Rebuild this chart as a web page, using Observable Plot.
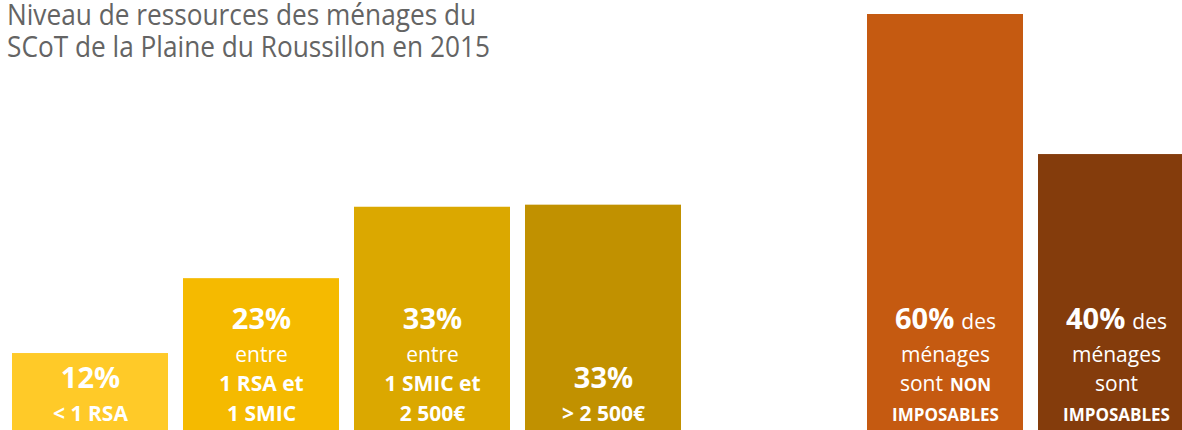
<!DOCTYPE html>
<html><head><meta charset="utf-8">
<script src="https://cdn.jsdelivr.net/npm/d3@7"></script>
<script src="https://cdn.jsdelivr.net/npm/@observablehq/plot@0.6"></script>
<style>
body{margin:0;background:#fff;}
#wrap{position:relative;width:1182px;height:430px;overflow:hidden;}
#title{position:absolute;left:7px;top:0;font-family:"Open Sans",sans-serif;font-size:30px;color:#646464;z-index:1;transform-origin:0 0;white-space:nowrap;}
#title span{display:block;line-height:27px;width:max-content;}
#title #t2{margin-top:5px;}
</style></head><body>
<div id="wrap"><div id="title"><span id="t1">Niveau de ressources des ménages du</span><span id="t2">SCoT de la Plaine du Roussillon en 2015</span></div><div id="chart"></div></div>
<script>
// Categories (a spacer slot separates the two groups)
const categories = ["< 1 RSA", "1 RSA – 1 SMIC", "1 SMIC – 2 500€", "> 2 500€", "non imposables", "imposables"];
const spacer = "·";
// Bar heights (%), and the printed labels
const shares = [11.1, 21.9, 32.2, 32.5, 60, 39.8];
const percentLabels = ["12%", "23%", "33%", "33%", "60%", "40%"];
const colors = ["#FFCA28", "#F5BA00", "#DBA800", "#C19100", "#C55A11", "#843C0C"];
// Text lines inside each bar (top to bottom); each line = list of [style, text]
const labelLines = [
  [[["pct", percentLabels[0]]], [["bold", "< 1 RSA"]]],
  [[["pct", percentLabels[1]]], [["reg", "entre"]], [["bold", "1 RSA et"]], [["bold", "1 SMIC"]]],
  [[["pct", percentLabels[2]]], [["reg", "entre"]], [["bold", "1 SMIC et"]], [["bold", "2 500€"]]],
  [[["pct", percentLabels[3]]], [["bold", "> 2 500€"]]],
  [[["pct", percentLabels[4]], ["reg", "des"]], [["reg", "ménages"]], [["reg", "sont"], ["caps", "NON"]], [["caps", "IMPOSABLES"]]],
  [[["pct", percentLabels[5]], ["reg", "des"]], [["reg", "ménages"]], [["reg", "sont"]], [["caps", "IMPOSABLES"]]]
];

const FONT = '"Open Sans", sans-serif';
const styles = {
  pct: {size: 29, weight: 700},
  reg: {size: 21, weight: 400},
  bold: {size: 21, weight: 700},
  caps: {size: 17, weight: 700}
};
const rowOffsets = [10, 40, 69, 102];
const partGap = 7;

const bars = categories.map((c, i) => ({category: c, share: shares[i], color: colors[i]}));

const ctx = document.createElement("canvas").getContext("2d");
function measure(style, text) {
  const s = styles[style];
  ctx.font = `${s.weight} ${s.size}px ${FONT}`;
  return ctx.measureText(text).width;
}

const textMarks = [];
labelLines.forEach((lines, bi) => {
  const n = lines.length;
  lines.forEach((parts, li) => {
    const r = n - 1 - li;
    const hasPct = parts.some(p => p[0] === "pct");
    const off = (hasPct && r === 1) ? 43 : rowOffsets[r];
    const widths = parts.map(([s, t]) => measure(s, t));
    const total = d3.sum(widths) + partGap * (parts.length - 1);
    let cur = -total / 2;
    parts.forEach(([s, t], pi) => {
      textMarks.push(Plot.text([bars[bi]], {
        x: "category",
        frameAnchor: "bottom",
        lineAnchor: "bottom",
        text: () => t,
        textAnchor: "start",
        dx: cur,
        dy: -off,
        fill: "white",
        fontFamily: FONT,
        fontSize: styles[s].size,
        fontWeight: styles[s].weight
      }));
      cur += widths[pi] + partGap;
    });
  });
});

const chart = Plot.plot({
  width: 1182,
  height: 430,
  marginTop: 14,
  marginBottom: 0,
  marginLeft: 0,
  marginRight: 0,
  style: {background: "transparent", fontFamily: FONT},
  x: {
    domain: [...categories.slice(0, 4), spacer, ...categories.slice(4)],
    range: [10, 1195],
    paddingInner: 0.09,
    paddingOuter: 0,
    axis: null
  },
  y: {domain: [0, 60], axis: null},
  marks: [
    Plot.barY(bars, {x: "category", y: "share", fill: "color", clip: true}),
    ...textMarks
  ]
});
document.getElementById("chart").appendChild(chart);

// fit title width to the reference (second line ≈ 483px wide)
const w2 = document.getElementById("t2").getBoundingClientRect().width;
const sx = 483 / w2;
document.getElementById("title").style.transform = `scaleX(${sx})`;
</script>
</body></html>
